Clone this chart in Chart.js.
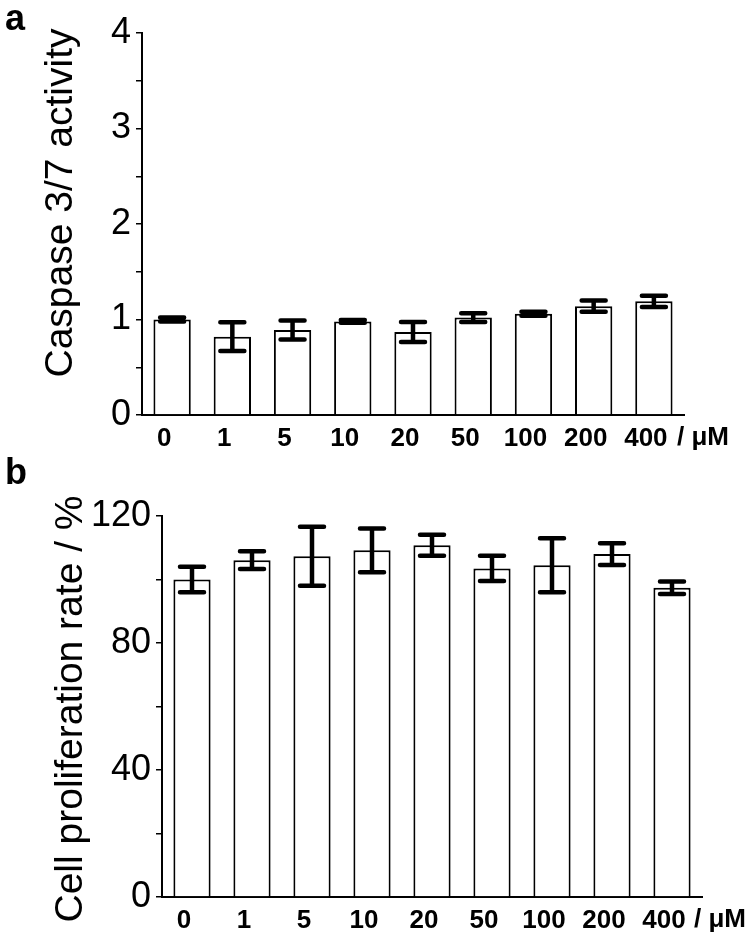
<!DOCTYPE html>
<html>
<head>
<meta charset="utf-8">
<title>Caspase 3/7 activity and cell proliferation</title>
<script src="https://cdn.jsdelivr.net/npm/chart.js@4.4.0/dist/chart.umd.min.js"></script>
<style>
    html, body { margin: 0; padding: 0; background: #fff; }
    #wrap { position: relative; width: 749px; height: 941px; }
    .panel { position: absolute; left: 0; width: 749px; }
    #panelA { top: 0; height: 455px; }
    #panelB { top: 455px; height: 486px; }
</style>
</head>
<body>
<div id="wrap">
    <div class="panel" id="panelA"><canvas id="chartA" width="749" height="455"></canvas></div>
    <div class="panel" id="panelB"><canvas id="chartB" width="749" height="486"></canvas></div>
</div>
<script>
// Concentrations (µM)
const doses = ['0', '1', '5', '10', '20', '50', '100', '200', '400'];

// Panel a: caspase 3/7 activity (relative), mean and error
const caspaseMean = [1.00, 0.82, 0.89, 0.98, 0.87, 1.02, 1.06, 1.14, 1.19];
const caspaseErr = [0.02, 0.15, 0.10, 0.015, 0.105, 0.045, 0.02, 0.06, 0.06];
const caspaseTicks = [0, 1, 2, 3, 4];

// Panel b: cell proliferation rate (%), mean and error
const prolifMean = [100.0, 106.1, 107.3, 109.2, 110.8, 103.5, 104.5, 108.0, 97.4];
const prolifErr = [4.0, 2.8, 9.3, 6.9, 3.3, 4.0, 8.5, 3.4, 2.0];
const prolifTicks = [0, 40, 80, 120];

const unitLabel = '/ \u03bcM';
const FONT = '"Liberation Sans", Arial, sans-serif';

/**
 * Draw error bars (vertical line + caps) on top of the bars
 */
const errorBars = {
    id: 'errorBars',
    afterDatasetsDraw(chart, args, opts) {
        const ctx = chart.ctx;
        const meta = chart.getDatasetMeta(0);
        const yScale = chart.scales.y;
        const means = chart.data.datasets[0].data;
        ctx.save();
        ctx.strokeStyle = '#000';
        ctx.lineWidth = 4.5;
        meta.data.forEach((bar, i) => {
            const hi = yScale.getPixelForValue(means[i] + opts.err[i]);
            const lo = yScale.getPixelForValue(means[i] - opts.err[i]);
            const x = bar.x;
            ctx.lineCap = 'butt';
            ctx.beginPath();
            ctx.moveTo(x, hi);
            ctx.lineTo(x, lo);
            ctx.stroke();
            ctx.lineCap = 'round';
            ctx.beginPath();
            ctx.moveTo(x - 12, hi);
            ctx.lineTo(x + 12, hi);
            ctx.moveTo(x - 12, lo);
            ctx.lineTo(x + 12, lo);
            ctx.stroke();
        });
        ctx.restore();
    }
};

/**
 * Panel letter, rotated y title and the unit after the last category
 */
const decorations = {
    id: 'decorations',
    afterDraw(chart, args, opts) {
        const ctx = chart.ctx;
        ctx.save();
        ctx.fillStyle = '#000';

        ctx.font = 'bold 36px ' + FONT;
        ctx.textAlign = 'left';
        ctx.textBaseline = 'alphabetic';
        ctx.fillText(opts.letter, opts.letterX, opts.letterY);

        ctx.save();
        ctx.translate(opts.titleX, opts.titleY);
        ctx.rotate(-Math.PI / 2);
        ctx.font = '39px ' + FONT;
        ctx.textAlign = 'center';
        ctx.textBaseline = 'alphabetic';
        ctx.fillText(opts.title, 0, 0);
        ctx.restore();

        // unit text right after the "400" label
        ctx.font = 'bold 26px ' + FONT;
        ctx.textAlign = 'right';
        ctx.textBaseline = 'middle';
        ctx.fillText(unitLabel, opts.unitRight, chart.chartArea.bottom + 23);
        ctx.restore();
    }
};

function makeChart(id, cfg) {
    return new Chart(document.getElementById(id), {
        type: 'bar',
        data: {
            labels: doses,
            datasets: [{
                data: cfg.means,
                backgroundColor: '#fff',
                borderColor: '#000',
                borderWidth: 2,
                barPercentage: 0.62,
                categoryPercentage: 1.0
            }]
        },
        options: {
            responsive: false,
            animation: false,
            devicePixelRatio: 1,
            layout: { autoPadding: false, padding: cfg.padding },
            plugins: {
                legend: { display: false },
                tooltip: { enabled: false },
                errorBars: { err: cfg.err },
                decorations: {
                    letter: cfg.letter, letterX: 5, letterY: cfg.letterY,
                    title: cfg.title, titleX: cfg.titleX, titleY: cfg.titleY,
                    unitRight: cfg.unitRight
                }
            },
            scales: {
                x: {
                    grid: { display: false, drawTicks: false },
                    border: { display: true, color: '#000', width: 2 },
                    ticks: {
                        color: '#000',
                        font: { family: FONT, size: 26, weight: 'bold' },
                        padding: 8,
                        labelOffset: -8,
                        maxRotation: 0
                    },
                    afterFit: s => { s.height = cfg.xHeight; }
                },
                y: {
                    min: cfg.min,
                    max: cfg.max,
                    grid: { drawOnChartArea: false, drawTicks: true, tickLength: 6, color: '#000', lineWidth: 1.5 },
                    border: { display: true, color: '#000', width: 2 },
                    ticks: {
                        stepSize: cfg.step,
                        autoSkip: false,
                        color: '#000',
                        font: { family: FONT, size: 36 },
                        padding: 5,
                        callback: v => cfg.ticks.includes(v) ? String(v) : ''
                    },
                    afterFit: s => { s.width = cfg.yWidth; }
                }
            }
        },
        plugins: [errorBars, decorations]
    });
}

document.addEventListener('DOMContentLoaded', function() {
    makeChart('chartA', {
        means: caspaseMean, err: caspaseErr, ticks: caspaseTicks,
        min: 0, max: 4, step: 0.5,
        padding: { top: 33, right: 65, left: 0, bottom: 0 },
        yWidth: 142, xHeight: 40,
        letter: 'a', letterY: 30,
        title: 'Caspase 3/7 activity', titleX: 72, titleY: 203,
        unitRight: 729
    });
    makeChart('chartB', {
        means: prolifMean, err: prolifErr, ticks: prolifTicks,
        min: 0, max: 120, step: 20,
        padding: { top: 61, right: 47, left: 0, bottom: 0 },
        yWidth: 162, xHeight: 44,
        letter: 'b', letterY: 29,
        title: 'Cell proliferation rate / %', titleX: 82, titleY: 254,
        unitRight: 746
    });
});
</script>
</body>
</html>
